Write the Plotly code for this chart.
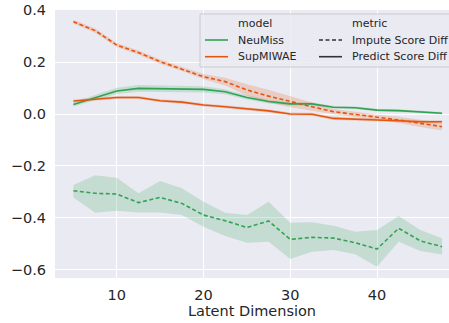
import plotly.graph_objects as go

# ---- data ----
latent_dim = [5, 7.5, 10, 12.5, 15, 17.5, 20, 22.5, 25, 27.5, 30, 32.5, 35, 37.5, 40, 42.5, 45, 47.5]

neumiss_predict = [0.037, 0.064, 0.089, 0.099, 0.097, 0.097, 0.095, 0.086, 0.064, 0.048, 0.039, 0.039, 0.026, 0.024, 0.015, 0.013, 0.009, 0.003]
neumiss_predict_hi = [0.045, 0.074, 0.101, 0.112, 0.110, 0.110, 0.107, 0.096, 0.072, 0.055, 0.045, 0.045, 0.031, 0.029, 0.020, 0.018, 0.014, 0.008]
neumiss_predict_lo = [0.029, 0.054, 0.077, 0.086, 0.084, 0.084, 0.083, 0.076, 0.056, 0.041, 0.033, 0.033, 0.021, 0.019, 0.010, 0.008, 0.004, -0.002]

supmiwae_predict = [0.050, 0.058, 0.064, 0.064, 0.051, 0.046, 0.035, 0.028, 0.019, 0.012, 0.000, -0.001, -0.017, -0.019, -0.023, -0.026, -0.030, -0.030]
supmiwae_predict_hi = [0.056, 0.064, 0.070, 0.070, 0.057, 0.052, 0.041, 0.034, 0.025, 0.018, 0.006, 0.005, -0.011, -0.013, -0.017, -0.020, -0.024, -0.024]
supmiwae_predict_lo = [0.044, 0.052, 0.058, 0.058, 0.045, 0.040, 0.029, 0.022, 0.013, 0.006, -0.006, -0.007, -0.023, -0.025, -0.029, -0.032, -0.036, -0.036]

supmiwae_impute = [0.356, 0.322, 0.266, 0.237, 0.202, 0.174, 0.144, 0.125, 0.093, 0.069, 0.048, 0.028, 0.009, -0.001, -0.013, -0.023, -0.036, -0.049]
supmiwae_impute_hi = [0.364, 0.330, 0.274, 0.245, 0.210, 0.182, 0.154, 0.140, 0.115, 0.094, 0.070, 0.043, 0.019, 0.009, -0.003, -0.011, -0.022, -0.034]
supmiwae_impute_lo = [0.348, 0.314, 0.258, 0.229, 0.194, 0.166, 0.134, 0.110, 0.071, 0.044, 0.026, 0.013, -0.001, -0.011, -0.023, -0.035, -0.050, -0.064]

neumiss_impute = [-0.296, -0.306, -0.309, -0.342, -0.322, -0.345, -0.390, -0.412, -0.438, -0.413, -0.484, -0.476, -0.479, -0.497, -0.521, -0.441, -0.490, -0.512]
neumiss_impute_hi = [-0.274, -0.236, -0.246, -0.306, -0.259, -0.287, -0.339, -0.381, -0.390, -0.339, -0.420, -0.418, -0.431, -0.454, -0.448, -0.394, -0.448, -0.480]
neumiss_impute_lo = [-0.322, -0.381, -0.373, -0.380, -0.380, -0.390, -0.435, -0.471, -0.497, -0.493, -0.560, -0.532, -0.525, -0.541, -0.590, -0.493, -0.529, -0.542]

y_ticks = [-0.6, -0.4, -0.2, 0.0, 0.2, 0.4]
x_ticks = [10, 20, 30, 40]

GREEN = "#31a354"
ORANGE = "#e6550d"
GREEN_BAND = "rgba(49,163,84,0.2)"
ORANGE_BAND = "rgba(230,85,13,0.2)"
TXT = "#262626"
FONT = "DejaVu Sans"

fig = go.Figure()


def band(lo, hi, color):
    fig.add_trace(go.Scatter(x=latent_dim, y=hi, mode="lines", line=dict(width=0),
                             showlegend=False, hoverinfo="skip"))
    fig.add_trace(go.Scatter(x=latent_dim, y=lo, mode="lines", line=dict(width=0),
                             fill="tonexty", fillcolor=color, showlegend=False, hoverinfo="skip"))


band(neumiss_impute_lo, neumiss_impute_hi, GREEN_BAND)
band(neumiss_predict_lo, neumiss_predict_hi, GREEN_BAND)
band(supmiwae_impute_lo, supmiwae_impute_hi, ORANGE_BAND)
band(supmiwae_predict_lo, supmiwae_predict_hi, ORANGE_BAND)

DASH = "4px,2.5px"
fig.add_trace(go.Scatter(x=latent_dim, y=neumiss_impute, mode="lines",
                         line=dict(color=GREEN, width=1.6, dash=DASH), showlegend=False))
fig.add_trace(go.Scatter(x=latent_dim, y=neumiss_predict, mode="lines",
                         line=dict(color=GREEN, width=1.6), showlegend=False))
fig.add_trace(go.Scatter(x=latent_dim, y=supmiwae_impute, mode="lines",
                         line=dict(color=ORANGE, width=1.6, dash=DASH), showlegend=False))
fig.add_trace(go.Scatter(x=latent_dim, y=supmiwae_predict, mode="lines",
                         line=dict(color=ORANGE, width=1.6), showlegend=False))

# ---- custom two-column legend (seaborn style) ----
L, T, W, H = 55, 10, 394, 268


def px(x):
    return (x - L) / W


def py(y):
    return (T + H - y) / H


shapes = [dict(type="rect", xref="paper", yref="paper", x0=px(200), x1=px(470),
               y0=py(67), y1=py(14), fillcolor="rgba(234,234,242,0.8)",
               line=dict(color="#cccccc", width=1), layer="above")]
annos = []
rows = [23.3, 40, 56.7]
left_items = [("model", None, None), ("NeuMiss", GREEN, "solid"), ("SupMIWAE", ORANGE, "solid")]
right_items = [("metric", None, None), ("Impute Score Diff", "#333333", DASH),
               ("Predict Score Diff", "#333333", "solid")]
for (items, hx0, hx1, tx) in [(left_items, 205, 228, 236), (right_items, 319, 342, 350)]:
    for (label, col, dash), yy in zip(items, rows):
        annos.append(dict(xref="paper", yref="paper", x=px(tx), y=py(yy), text=label,
                          showarrow=False, xanchor="left", yanchor="middle",
                          font=dict(family=FONT, size=11, color=TXT)))
        if col is not None:
            shapes.append(dict(type="line", xref="paper", yref="paper", x0=px(hx0), x1=px(hx1),
                               y0=py(yy), y1=py(yy), line=dict(color=col, width=1.6, dash=dash),
                               layer="above"))

fig.update_layout(
    width=449, height=323,
    margin=dict(l=L, r=0, t=T, b=323 - T - H, pad=0),
    paper_bgcolor="white", plot_bgcolor="#EAEAF2",
    font=dict(family=FONT, size=14.5, color=TXT),
    shapes=shapes, annotations=annos, showlegend=False,
    xaxis=dict(range=[2.875, 48.3], tickvals=x_ticks, showgrid=True, gridcolor="white",
               gridwidth=1.2, zeroline=False, showline=False, ticks="", ticklabelstandoff=6,
               title=dict(text="Latent Dimension", font=dict(size=14.5), standoff=4)),
    yaxis=dict(range=[-0.633, 0.4015], tickvals=y_ticks, tickformat=".1f", showgrid=True,
               gridcolor="white", gridwidth=1.2, zeroline=False, showline=False, ticks="",
               ticklabelstandoff=8),
)

fig.write_html("out.html")
